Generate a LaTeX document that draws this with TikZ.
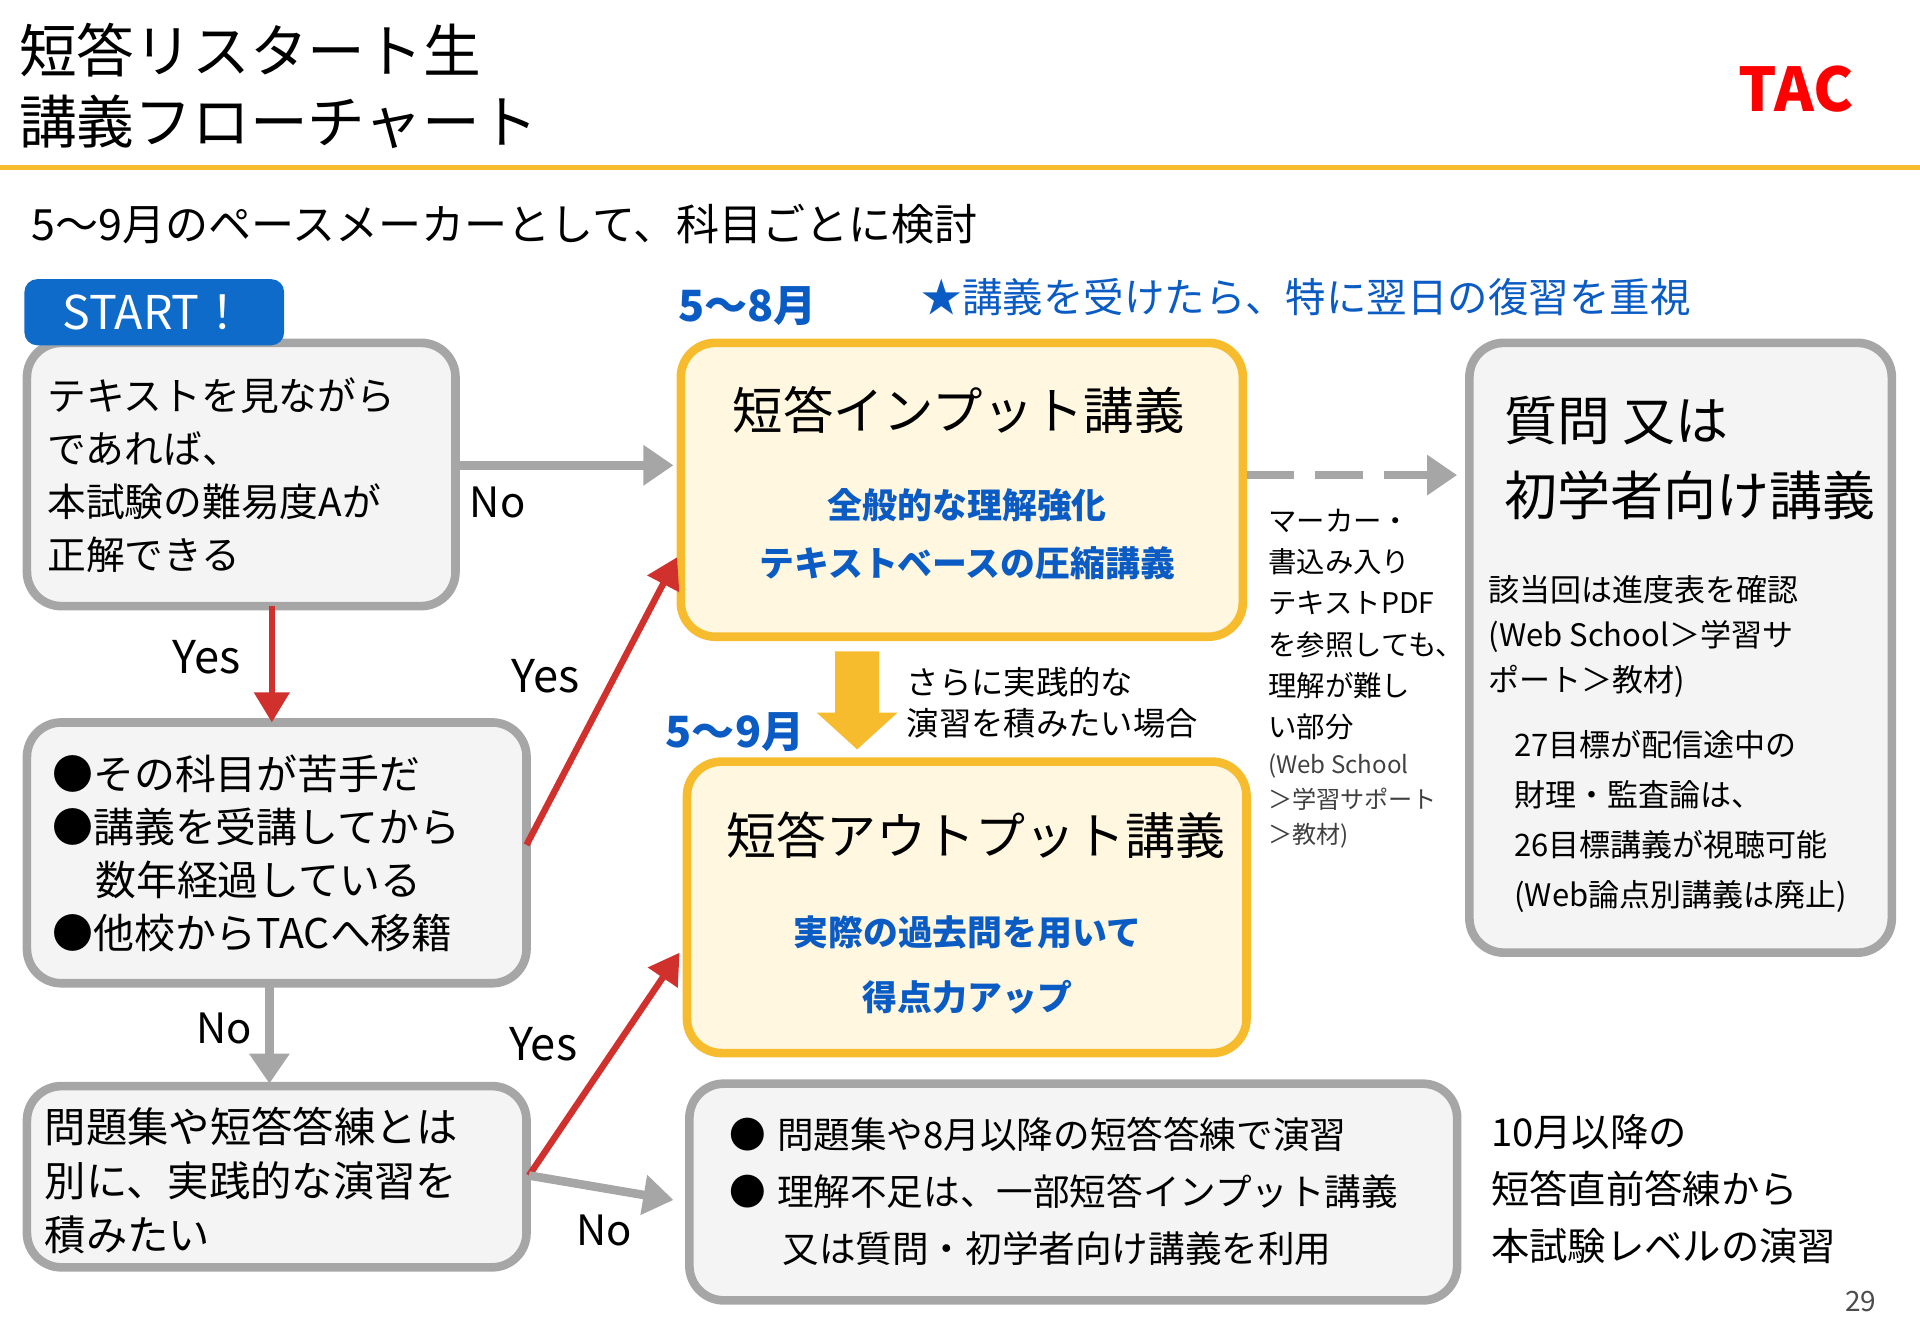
\documentclass[tikz,border=0pt]{standalone}
\usepackage{fontspec}
\setmainfont{Noto Sans CJK JP}
\usetikzlibrary{arrows.meta}
\definecolor{tacgray}{HTML}{A6A6A6}
\definecolor{boxfill}{HTML}{F4F4F4}
\definecolor{tacorange}{HTML}{F6BC2E}
\definecolor{orfill}{HTML}{FFF7E0}
\definecolor{tacblue}{HTML}{0B5BC4}
\definecolor{tacred}{HTML}{D0312D}
\definecolor{startblue}{HTML}{0F6BC9}
\newcommand{\fs}[2]{\fontsize{#1}{#2}\selectfont}
\tikzset{
  graybox/.style={draw=tacgray,fill=boxfill,line width=2pt,rounded corners=8pt},
  orbox/.style={draw=tacorange,fill=orfill,line width=2pt,rounded corners=8pt},
  txt/.style={anchor=west,align=left,inner sep=0pt},
  garrow/.style={draw=tacgray,line width=2pt,-{Triangle[length=7pt,width=9pt]}},
  rarrow/.style={draw=tacred,line width=1.5pt,-{Triangle[length=7pt,width=8pt]}},
}
\begin{document}
\begin{tikzpicture}[x=0.01cm,y=-0.01cm]
\useasboundingbox (0,0) rectangle (1568,1085);
% header
\node[txt,font=\fs{13.4}{16.5}] (title) at (15,70) {短答リスタート生\\講義フローチャート};
\node[anchor=center,inner sep=0pt,text=red,font=\fs{14}{14}\bfseries\itshape] (logo) at (1467,73) {TAC};
\draw[tacorange,line width=1.2pt] (0,137) -- (1568,137);
\node[txt,font=\fs{10}{12}] (sub) at (25,183) {5～9月のペースメーカーとして、科目ごとに検討};
% boxes
\draw[graybox] (22,280) rectangle (372,495);
\node[txt,font=\fs{9}{12.3}] (b1) at (38,388) {テキストを見ながら\\であれば、\\本試験の難易度Aが\\正解できる};
\node[fill=startblue,rounded corners=3pt,minimum width=2.12cm,minimum height=0.54cm,text=white,font=\fs{10.8}{12}] (start) at (126,255) {START！};
\draw[orbox] (556,280) rectangle (1015,520);
\node[font=\fs{11.7}{14}] (b2) at (783,335) {短答インプット講義};
\node[text=tacblue,align=center,font=\fs{8.1}{13.5}\bfseries] (b2s) at (790,436) {全般的な理解強化\\テキストベースの圧縮講義};
\draw[graybox] (1200,280) rectangle (1545,778);
\node[txt,font=\fs{12.3}{17.6}] (b7) at (1228,374) {質問 又は\\初学者向け講義};
\node[txt,font=\fs{7.2}{10.5}] (b7a) at (1215,520) {該当回は進度表を確認\\(Web School＞学習サ\\ポート＞教材)};
\node[txt,font=\fs{7.2}{11.6}] (b7b) at (1236,671) {27目標が配信途中の\\財理・監査論は、\\26目標講義が視聴可能\\(Web論点別講義は廃止)};
\node[txt,font=\fs{6.6}{9.6}] (mk) at (1035,510) {マーカー・\\書込み入り\\テキストPDF\\を参照しても、\\理解が難し\\い部分};
\node[txt,text=black!75,font=\fs{5.6}{8.2}] (mk2) at (1035,654) {(Web School\\＞学習サポート\\＞教材)};
\node[txt,text=tacblue,font=\fs{10}{12}\bfseries] (m58) at (553,250) {5～8月};
\node[txt,text=tacblue,font=\fs{9.4}{12}] (star) at (752,243) {★講義を受けたら、特に翌日の復習を重視};
\draw[graybox] (22,590) rectangle (430,803);
\node[txt,font=\fs{9.5}{12.3}] (b3) at (42,697) {●その科目が苦手だ\\●講義を受講してから\\\hspace*{1.05em}数年経過している\\●他校からTACへ移籍};
\draw[orbox] (561,622) rectangle (1018,860);
\node[font=\fs{11.6}{14}] (b4) at (797,682) {短答アウトプット講義};
\node[text=tacblue,align=center,font=\fs{8.1}{15.3}\bfseries] (b4s) at (790,788) {実際の過去問を用いて\\得点力アップ};
\node[txt,font=\fs{7.5}{9.6}] (more) at (740,574) {さらに実践的な\\演習を積みたい場合};
\node[txt,text=tacblue,font=\fs{10}{12}\bfseries] (m59) at (543,598) {5～9月};
\draw[graybox] (22,887) rectangle (430,1035);
\node[txt,font=\fs{9.6}{12.6}] (b5) at (36,964) {問題集や短答答練とは\\別に、実践的な演習を\\積みたい};
\draw[graybox] (563,885) rectangle (1190,1062);
\node[txt,font=\fs{8.5}{13.2}] (b6) at (595,973) {●\hspace{0.3em}問題集や8月以降の短答答練で演習\\●\hspace{0.3em}理解不足は、一部短答インプット講義\\\hspace*{1.45em}又は質問・初学者向け講義を利用};
\node[txt,font=\fs{8.9}{13.2}] (b8) at (1217,971) {10月以降の\\短答直前答練から\\本試験レベルの演習};
\node[anchor=east,inner sep=0pt,text=black!70,font=\fs{6.5}{8}] (pg) at (1533,1063) {29};
% connectors
\coordinate (a1s) at (372,380); \coordinate (a1e) at (550,380);
\draw[garrow] (a1s) -- (a1e);
\node[txt,font=\fs{9.7}{12}] (no1) at (383,410) {No};
\coordinate (d1s) at (1018,388); \coordinate (d1e) at (1190,388);
\draw[garrow,dash pattern=on 11pt off 5pt] (d1s) -- (d1e);
\coordinate (y1s) at (222,495); \coordinate (y1e) at (222,590);
\draw[rarrow] (y1s) -- (y1e);
\node[txt,font=\fs{10.5}{12}] (yes1) at (140,537) {Yes};
\coordinate (r1s) at (430,690); \coordinate (r1e) at (553,455);
\draw[rarrow] (r1s) -- (r1e);
\node[txt,font=\fs{10.5}{12}] (yes2) at (417,552) {Yes};
\draw[draw=none,fill=tacorange] (682,532) -- (718,532) -- (718,582) -- (733,582) -- (700,612) -- (667,582) -- (682,582) -- cycle;
\coordinate (n2s) at (220,803); \coordinate (n2e) at (220,885);
\draw[garrow] (n2s) -- (n2e);
\node[txt,font=\fs{9.7}{12}] (no2) at (160,840) {No};
\coordinate (r2s) at (432,960); \coordinate (r2e) at (555,778);
\draw[rarrow] (r2s) -- (r2e);
\node[txt,font=\fs{10.5}{12}] (yes3) at (415,853) {Yes};
\coordinate (n3e) at (550,980);
\draw[garrow] (r2s) -- (n3e);
\node[txt,font=\fs{9.7}{12}] (no3) at (470,1005) {No};
\end{tikzpicture}
\end{document}
